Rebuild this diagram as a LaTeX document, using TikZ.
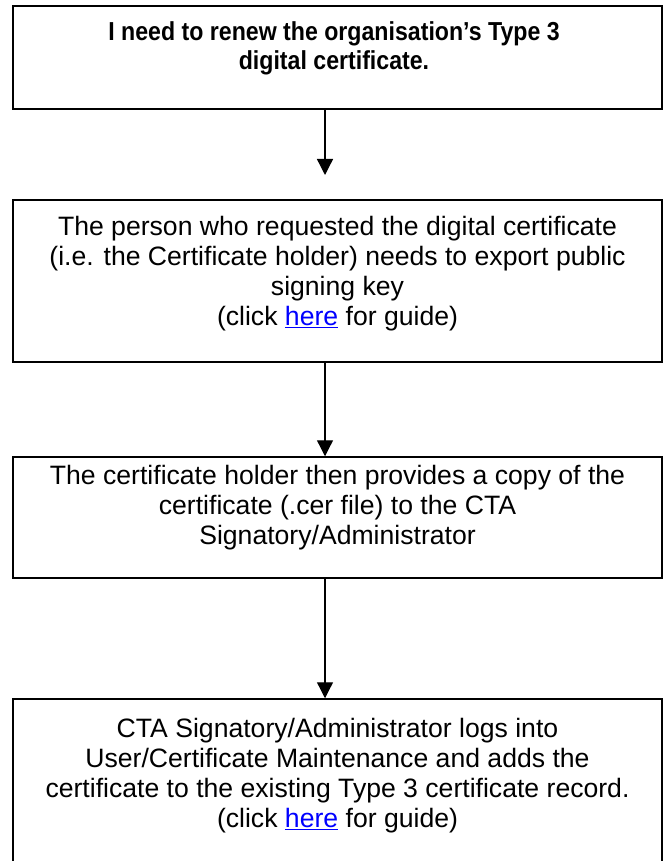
\documentclass[tikz,border=0pt]{standalone}
\usepackage{fontspec}
\setmainfont{Liberation Sans}
\newfontfamily\narrowbold[FakeStretch=0.89]{Liberation Sans Bold}
\usetikzlibrary{arrows.meta}
\definecolor{linkblue}{RGB}{0,0,255}
\newcommand{\guidelink}{\textcolor{linkblue}{\underline{here}}}
\begin{document}
\begin{tikzpicture}[x=1pt,y=-1pt,
  boxstyle/.style={draw=black, line width=1.5pt, rectangle, inner sep=0pt, minimum width=649pt},
  txt/.style={inner sep=0pt, align=center, font=\fontsize{26.6}{30}\selectfont, anchor=north},
  flow/.style={draw=black, line width=1.3pt, -{Triangle[width=16pt,length=16pt]}}]
\useasboundingbox (0,0) rectangle (667,861);
\node[boxstyle, minimum height=103pt] (b1) at (337.5,57.5) {};
\node[boxstyle, minimum height=162pt] (b2) at (337.5,281) {};
\node[boxstyle, minimum height=121pt] (b3) at (337.5,517.5) {};
\node[boxstyle, minimum height=181pt] (b4) at (337.5,789.5) {};
\coordinate (ax) at (325,0);
\coordinate (tip1) at (325,175);
\node[txt, font=\fontsize{26}{29}\narrowbold] (t1) at (334,21) {I need to renew the organisation’s Type 3\\digital certificate.};
\node[txt] (t2) at (337.5,216) {The person who requested the digital certificate\\(i.e. the Certificate holder) needs to export public\\signing key\\(click \guidelink{} for guide)};
\node[txt] (t3) at (337.5,465) {The certificate holder then provides a copy of the\\certificate (.cer file) to the CTA\\Signatory/Administrator};
\node[txt] (t4) at (337.5,718) {CTA Signatory/Administrator logs into\\User/Certificate Maintenance and adds the\\certificate to the existing Type 3 certificate record.\\(click \guidelink{} for guide)};
\draw[flow] (b1.south -| ax) -- (tip1);
\draw[flow] (b2.south -| ax) -- (b3.north -| ax);
\draw[flow] (b3.south -| ax) -- (b4.north -| ax);
\end{tikzpicture}
\end{document}
